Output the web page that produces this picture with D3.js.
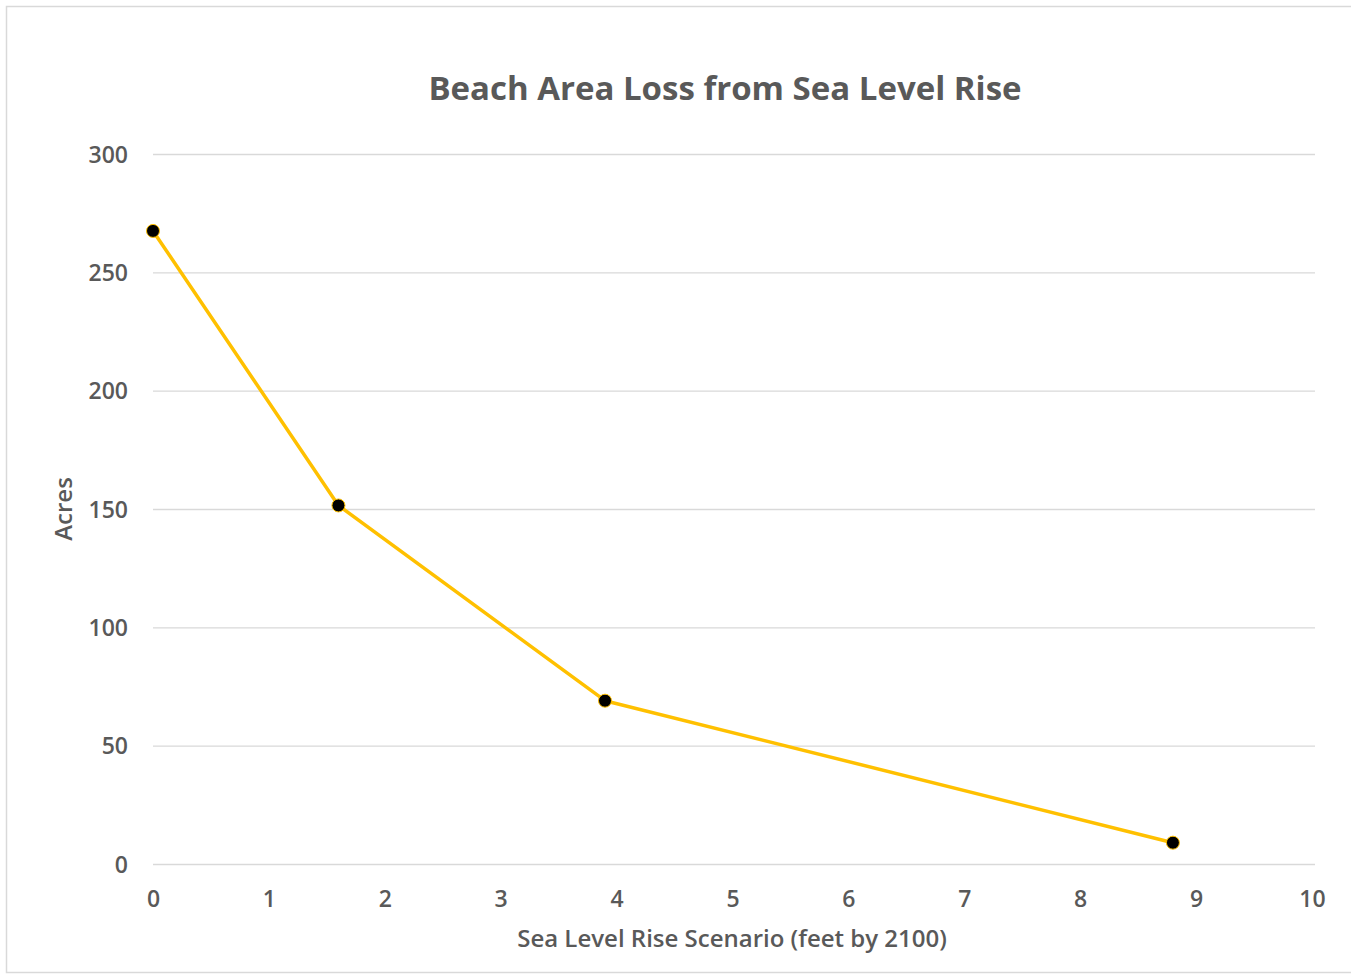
<!DOCTYPE html>
<html><head><meta charset="utf-8">
<script src="https://cdn.jsdelivr.net/npm/d3@7"></script>
<style>body{margin:0;background:#fff}svg{display:block}</style>
</head><body>
<svg id="c" width="1351" height="977"></svg>
<script>
const scenarioFeet = [0, 1.6, 3.9, 8.8];
const acres = [267.5, 151.5, 69, 9];
const xTicks = [0,1,2,3,4,5,6,7,8,9,10];
const yTicks = [0,50,100,150,200,250,300];
const title = "Beach Area Loss from Sea Level Rise";
const xTitle = "Sea Level Rise Scenario (feet by 2100)";
const yTitle = "Acres";

const svg = d3.select("#c");
const font = "'Open Sans', 'Noto Sans', sans-serif";
const txt = "#595959";

svg.append("rect").attr("x",6.5).attr("y",6.5).attr("width",1360).attr("height",966)
  .attr("fill","#fff").attr("stroke","#d9d9d9").attr("stroke-width",1.5);

const x = d3.scaleLinear().domain([0,10]).range([153,1312]);
const y = d3.scaleLinear().domain([0,300]).range([864,154]);

const gy = svg.append("g").attr("transform","translate(153,0)")
  .call(d3.axisLeft(y).tickValues(yTicks).tickSize(-1162).tickPadding(25));
gy.select(".domain").remove();
gy.selectAll(".tick line").attr("stroke","#d9d9d9").attr("stroke-width",1.3);
gy.selectAll(".tick text").attr("fill",txt).attr("font-family",font).attr("font-size",23).attr("font-weight",600).attr("dy","0.36em");

const gx = svg.append("g").attr("transform","translate(0,864)")
  .call(d3.axisBottom(x).tickValues(xTicks).tickSize(0).tickPadding(27));
gx.select(".domain").remove();
gx.selectAll(".tick text").attr("fill",txt).attr("font-family",font).attr("font-size",23).attr("font-weight",600);

const data = scenarioFeet.map((v,i)=>({x:v,y:acres[i]}));
svg.append("path").datum(data)
  .attr("d", d3.line().x(d=>x(d.x)).y(d=>y(d.y)))
  .attr("fill","none").attr("stroke","#FFC000").attr("stroke-width",3.5).attr("stroke-linejoin","round");
svg.selectAll("circle.pt").data(data).enter().append("circle").attr("class","pt")
  .attr("cx",d=>x(d.x)).attr("cy",d=>y(d.y)).attr("r",6.5)
  .attr("fill","#000").attr("stroke","#FFC000").attr("stroke-width",1);

svg.append("text").attr("x",725).attr("y",100).attr("text-anchor","middle")
  .attr("fill",txt).attr("font-family",font).attr("font-size",33).attr("font-weight",700).text(title);
svg.append("text").attr("x",732).attr("y",947).attr("text-anchor","middle")
  .attr("fill",txt).attr("font-family",font).attr("font-size",24).attr("font-weight",600).text(xTitle);
svg.append("text").attr("transform","translate(72,509) rotate(-90)").attr("text-anchor","middle")
  .attr("fill",txt).attr("font-family",font).attr("font-size",24).attr("font-weight",600).text(yTitle);
</script>
</body></html>
